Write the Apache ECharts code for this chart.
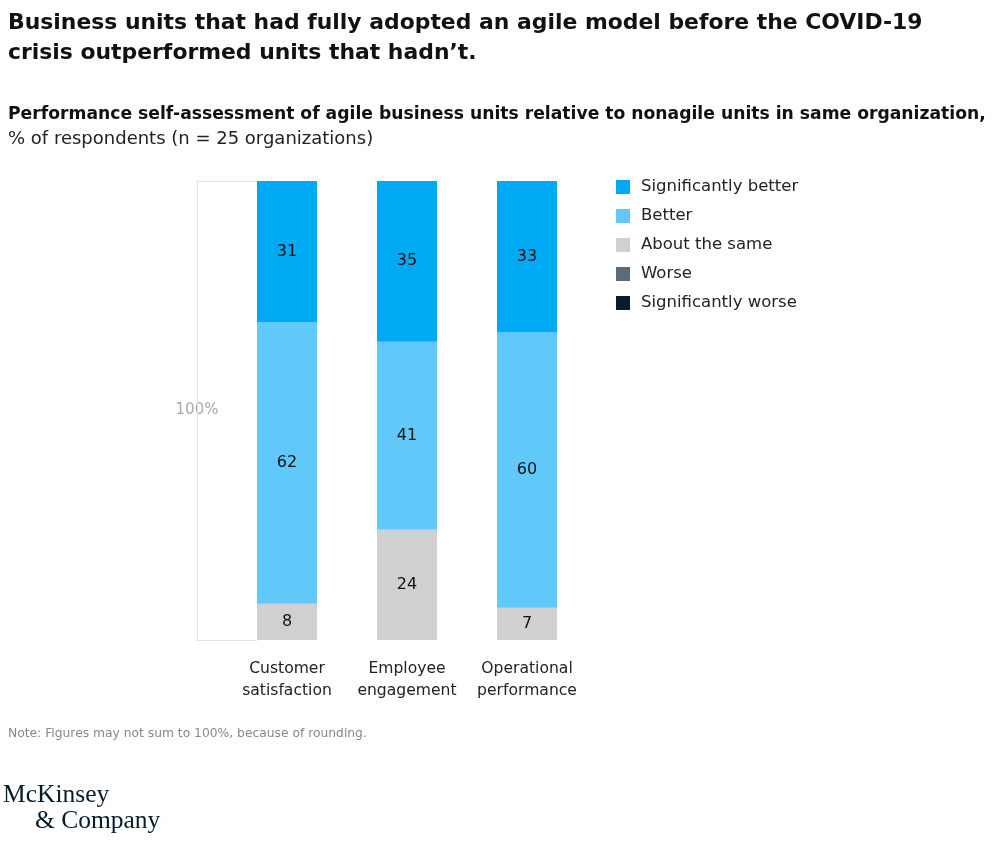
<!DOCTYPE html>
<html>
<head>
<meta charset="utf-8">
<script src="https://cdn.jsdelivr.net/npm/echarts@6/dist/echarts.min.js"></script>
<style>
html,body{margin:0;padding:0;background:#fff;}
#chart{width:1000px;height:841px;}
</style>
</head>
<body>
<div id="chart"></div>
<script>
const categories = ['Customer\nsatisfaction', 'Employee\nengagement', 'Operational\nperformance'];
const seriesNames = ['Significantly better', 'Better', 'About the same', 'Worse', 'Significantly worse'];
const significantlyBetter = [31, 35, 33];
const better = [62, 41, 60];
const aboutTheSame = [8, 24, 7];
const worse = [0, 0, 0];
const significantlyWorse = [0, 0, 0];
const colors = ['#00a9f4', '#61c9f9', '#d0d0d0', '#5b6b78', '#051c2c'];

const rawSeries = [significantlyBetter, better, aboutTheSame, worse, significantlyWorse];
const totals = categories.map((c, i) => rawSeries.reduce((s, arr) => s + arr[i], 0));

const FONT = '"DejaVu Sans", "Liberation Sans", Arial, sans-serif';
const SERIF = '"Liberation Serif", "DejaVu Serif", serif';

// stack bottom-to-top: significantly worse ... significantly better
const order = [4, 3, 2, 1, 0];
const series = order.map(k => ({
  name: seriesNames[k],
  type: 'bar',
  stack: 'total',
  barWidth: 60,
  itemStyle: { color: colors[k] },
  label: {
    show: true,
    position: 'inside',
    color: '#111',
    fontFamily: FONT,
    fontSize: 16,
    formatter: p => (p.data.raw > 0 ? String(p.data.raw) : '')
  },
  data: rawSeries[k].map((v, i) => ({ value: v / totals[i] * 100, raw: v }))
}));

const chart = echarts.init(document.getElementById('chart'));
chart.setOption({
  backgroundColor: '#fff',
  animation: false,
  color: colors,
  title: [
    {
      text: 'Business units that had fully adopted an agile model before the COVID-19\ncrisis outperformed units that hadn\u2019t.',
      left: 8, top: 8, padding: 0,
      textStyle: { fontFamily: FONT, fontWeight: 'bold', fontSize: 21.9, lineHeight: 30, color: '#111' }
    },
    {
      text: '{b|Performance self-assessment of agile business units relative to nonagile units in same organization,}\n{r|% of respondents (n = 25 organizations)}',
      left: 8, top: 103, padding: 0,
      textStyle: {
        rich: {
          b: { fontFamily: FONT, fontWeight: 'bold', fontSize: 17.2, lineHeight: 24, color: '#111' },
          r: { fontFamily: FONT, fontWeight: 'normal', fontSize: 18, lineHeight: 24, color: '#222' }
        }
      }
    },
    {
      text: 'Note: Figures may not sum to 100%, because of rounding.',
      left: 8, top: 728, padding: 0,
      textStyle: { fontFamily: FONT, fontSize: 12.3, fontWeight: 'normal', color: '#888' }
    },
    {
      text: 'McKinsey',
      left: 3, top: 782, padding: 0,
      textStyle: { fontFamily: SERIF, fontSize: 25.5, fontWeight: 'normal', color: '#051c2c' }
    },
    {
      text: '& Company',
      left: 35, top: 808, padding: 0,
      textStyle: { fontFamily: SERIF, fontSize: 25.5, fontWeight: 'normal', color: '#051c2c' }
    }
  ],
  legend: {
    orient: 'vertical',
    left: 616, top: 177, padding: 0,
    itemWidth: 14, itemHeight: 14, itemGap: 9,
    icon: 'rect',
    data: seriesNames,
    selectedMode: false,
    textStyle: { fontFamily: FONT, fontSize: 16.5, lineHeight: 20, color: '#222', padding: [0, 0, 0, 6] }
  },
  grid: { left: 227, right: 413, top: 181, bottom: 201, containLabel: false },
  xAxis: {
    type: 'category',
    data: categories,
    axisLine: { show: false },
    axisTick: { show: false },
    axisLabel: { interval: 0, fontFamily: FONT, fontSize: 15.6, lineHeight: 22, color: '#222', margin: 18 }
  },
  yAxis: {
    type: 'value',
    min: 0, max: 100, interval: 100,
    offset: 30,
    name: '100%',
    nameLocation: 'middle',
    nameRotate: 0,
    nameGap: 0,
    nameTextStyle: {
      fontFamily: FONT, fontSize: 15, color: '#aaa', align: 'center', verticalAlign: 'middle',
      backgroundColor: '#fff', padding: [12, 0, 12, 0]
    },
    axisLine: { show: true, lineStyle: { color: '#e2e2e2', width: 1 } },
    axisTick: { show: true, inside: true, length: 60, lineStyle: { color: '#e2e2e2', width: 1 } },
    axisLabel: { show: false },
    splitLine: { show: false }
  },
  series: series
});
</script>
</body>
</html>
